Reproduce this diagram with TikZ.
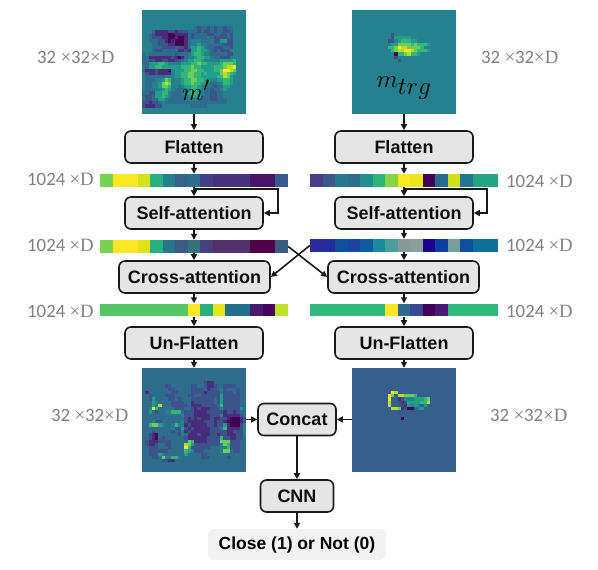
\documentclass[tikz,border=0pt]{standalone}
\usepackage{fontspec}
\setmainfont{Liberation Sans}
\newfontfamily\lblnum{Carlito}
\newfontfamily\lblser{Liberation Serif}
\usetikzlibrary{arrows.meta}
\definecolor{c0}{HTML}{440154}
\definecolor{c1}{HTML}{472D7B}
\definecolor{c2}{HTML}{3B528B}
\definecolor{c3}{HTML}{2F6C8E}
\definecolor{c4}{HTML}{27808E}
\definecolor{c5}{HTML}{1F9E89}
\definecolor{c6}{HTML}{35B779}
\definecolor{c7}{HTML}{6ECE58}
\definecolor{c8}{HTML}{B5DE2B}
\definecolor{c9}{HTML}{FDE725}
\definecolor{cx}{HTML}{35608D}
\newcount\hmcnt
\def\hmcell#1{\ifx#1\relax\else
  \fill[c#1] (\hmx+\the\hmcnt*3.25,\hmy) rectangle ++(3.4,3.4);
  \global\advance\hmcnt by 1
  \expandafter\hmcell\fi}
% #1 left, #2 top, #3 rows
\newcommand{\heatmap}[3]{%
  \foreach \hmr [count=\hmi from 0] in {#3}{%
    \pgfmathsetmacro{\hmy}{#2+\hmi*3.25}%
    \def\hmx{#1}%
    \global\hmcnt=0
    \expandafter\hmcell\hmr\relax
  }}
% #1 left, #2 top, #3 bottom, #4 segment width, #5 list of colours
\newcommand{\barsegs}[5]{%
  \foreach \bc [count=\bi from 0] in {#5}{%
    \fill[fill=\bc] (#1+\bi*#4,#2) rectangle ++(#4+0.2,#3-#2);
  }}
\tikzset{
  boxn/.style={draw=black!90,line width=1.6,fill=black!10,rounded corners=6,
    font=\fontsize{18}{20}\selectfont\bfseries,inner sep=0,minimum height=32,text=black!95},
  imgn/.style={inner sep=0,minimum width=104,minimum height=104},
  barn/.style={inner sep=0,minimum width=188,minimum height=13},
  lbl/.style={text=black!50,inner sep=0,font=\fontsize{18.8}{20}\selectfont\lblnum},
  arr/.style={line width=1.6,draw=black!90,-{Triangle[length=6,width=6]}},
}
\newcommand{\xD}{{\lblser ×D}}
\begin{document}
\begin{tikzpicture}[x=1pt,y=-1pt]
\useasboundingbox (0,0) rectangle (598,570);
% images
\node[imgn,fill=c4] (imgA) at (194,62) {};
\node[imgn,fill=c4] (imgB) at (404,62) {};
\node[imgn,fill=c3] (imgC) at (194,420) {};
\node[imgn,fill=cx] (imgD) at (404,420) {};
\heatmap{142}{10}{
4,4,4,4,4,
4444444444444444323323233233,
4443111122122233323223233223,
443211110011113233332233223244,
4432221100100132333343222232,
4433322101000134443334225522,
4443322211000134454433333222,
4443332222322135565433222332,
4443223333311215565543232224,
34333333332333456654433333224,
33111111121013445665543322244,
33221122112234556654444455556,
33555665444455566766555567776,
43556655555566676655556667889,
31112111045556677665556679987,
42112111145566776656555578765,
43333334445566776655555668754,
43334457644456677665544556654,
43344578744456676655433446654,
43344577644345566544432335544,
4333445654333456654332334544,
3322556643334456654332233444,
3223556543333445553332233444,
3223355433333344443332233344,
2212234333333333333333333344,
21112244444444433333444444
}
\heatmap{352}{10}{
4,4,4,4,4,4,4,
4444444444442,
444444444444255555,
44444444444224566655,
444444444444557777676665,
4444444444466798877776,
444444444444678899876665,
44444444444440667866544,
44444444444442,
444444444444442
}
\heatmap{142}{368}{
3,3,3,3,
33333333333333333332113333333,
33333332233333322332112332222333,
33333333223333322223122342333233,
31333333322333322221222242223233,
33233332223333223322222252222233,
33253333223233322222223252222233,
33354333322223312222223252222233,
33354833322222311122222362222233,
33496333332223321211122242222253,
33532334466632221111222221221233,
33333333333342221111122241111123,
33333333333332121211121122100012,
33342233333342111112221221000012,
33677543346441211111221225100024,
33333333342252121111122236111124,
33323333323241211111122222112224,
33210333333243111211122122111224,
33210323333332111111222262211223,
32111222233333761111222277722233,
32112332233338752222222247622233,
33222333233339622222233344622233,
33222222333336542223333347732233,
33222543333335333322333333333333,
33322374466433333322233333233333,
33333322113333333333333333333333,
3,3
}
\heatmap{352}{368}{
x,x,x,x,x,x,x,
xxxxxxxxxxxx98,
xxxxxxxxxxx97x887776,
xxxxxxxxxxx9xx1244455567,
xxxxxxxxxxx8xx2125555668,
xxxxxxxxxxx8xx2215454x5,
xxxxxxxxxxxx8871200x45,
xxxxxxxxxxxxxx2,
xxxxxxxxxxxxxx2,
xxxxxxxxxxxxxxx0
}
% bars
\node[barn] (barA) at (194,180.5) {};
\node[barn] (barB) at (404,180.5) {};
\node[barn] (barC) at (194,246.5) {};
\node[barn] (barD) at (404,245.5) {};
\node[barn] (barE) at (194,310) {};
\node[barn] (barF) at (404,310) {};
\definecolor{a1}{HTML}{7AD151}\definecolor{a2}{HTML}{FDE725}\definecolor{a3}{HTML}{D2E21B}\definecolor{a4}{HTML}{2AB07F}\definecolor{a5}{HTML}{23808E}\definecolor{a6}{HTML}{33638D}\definecolor{a7}{HTML}{2F6E8E}\definecolor{a8}{HTML}{433E85}\definecolor{a9}{HTML}{46337E}\definecolor{a0}{HTML}{481467}\definecolor{aa}{HTML}{365C8D}
\barsegs{100}{174}{187}{12.533}{a1,a2,a2,a3,a4,a5,a6,a7,a8,a9,a9,a9,a0,a0,aa}
\definecolor{b3}{HTML}{DFE318}\definecolor{b5}{HTML}{26768A}\definecolor{b6}{HTML}{3B5A85}\definecolor{b7}{HTML}{35727A}\definecolor{b8}{HTML}{48417F}\definecolor{b9}{HTML}{53306E}\definecolor{b0}{HTML}{500047}\definecolor{ba}{HTML}{3C5A80}
\barsegs{100}{240}{253}{12.533}{a1,a2,a2,b3,a4,b5,b6,b7,b8,b9,b9,b9,b0,b0,ba}
\definecolor{e1}{HTML}{55C667}\definecolor{e2}{HTML}{29AF7F}\definecolor{e3}{HTML}{E9E51A}\definecolor{e4}{HTML}{21718E}\definecolor{e5}{HTML}{471A70}\definecolor{e6}{HTML}{460161}\definecolor{e7}{HTML}{BDDF26}
\barsegs{100}{304}{316}{12.533}{e1,e1,e1,e1,e1,e1,e1,a2,e2,e3,e4,e4,e5,e6,e7}
\definecolor{f1}{HTML}{483F86}\definecolor{f2}{HTML}{38588C}\definecolor{f3}{HTML}{27788E}\definecolor{f4}{HTML}{2F6C8E}\definecolor{f5}{HTML}{218F8D}\definecolor{f6}{HTML}{2FB47C}\definecolor{f7}{HTML}{86D549}\definecolor{f8}{HTML}{ECE51B}\definecolor{f9}{HTML}{440154}\definecolor{f0}{HTML}{266B8E}\definecolor{fa}{HTML}{D0E11C}\definecolor{fb}{HTML}{22768E}\definecolor{fc}{HTML}{25A584}
\barsegs{310}{174}{187}{12.533}{f1,f2,f3,f4,f5,f6,f7,a2,f8,f9,f0,fa,fb,fc,fc}
\definecolor{g1}{HTML}{2A2A9A}\definecolor{g2}{HTML}{1F2F9E}\definecolor{g3}{HTML}{0F519F}\definecolor{g4}{HTML}{1A44A0}\definecolor{g5}{HTML}{0D5C9E}\definecolor{g6}{HTML}{1A8AA0}\definecolor{g7}{HTML}{4A9D9C}\definecolor{g8}{HTML}{88999A}\definecolor{g9}{HTML}{86A09A}\definecolor{g0}{HTML}{1C0090}\definecolor{ga}{HTML}{0A3FA0}\definecolor{gb}{HTML}{7A9C9C}\definecolor{gc}{HTML}{0D4F9C}\definecolor{gd}{HTML}{0B6F9E}
\barsegs{310}{239}{252}{12.533}{g1,g2,g3,g4,g5,g6,g7,g8,g9,g0,ga,gb,gc,gd,gd}
\definecolor{h1}{HTML}{2FB97A}\definecolor{h2}{HTML}{2F6A8E}\definecolor{h3}{HTML}{374A90}\definecolor{h4}{HTML}{44015A}\definecolor{h5}{HTML}{461A76}
\barsegs{310}{304}{316}{12.533}{h1,h1,h1,h1,h1,h1,a2,h2,h3,h4,h5,h1,h1,h1,h1}
% symbols in the images
\node[inner sep=0,font=\fontsize{28}{28}\selectfont] (mA) at (196,90) {$m'$};
\node[inner sep=0,font=\fontsize{24}{24}\selectfont] (mB) at (404,88) {$m_{\textstyle trg}$};
% boxes
\node[boxn,minimum width=138] (flatA) at (194,147) {Flatten};
\node[boxn,minimum width=138] (flatB) at (404,147) {Flatten};
\node[boxn,minimum width=138] (selfA) at (194,213) {Self-attention};
\node[boxn,minimum width=138] (selfB) at (404,213) {Self-attention};
\node[boxn,minimum width=151] (crossA) at (194.5,277) {Cross-attention};
\node[boxn,minimum width=151] (crossB) at (403.5,277) {Cross-attention};
\node[boxn,minimum width=138] (unA) at (194,343) {Un-Flatten};
\node[boxn,minimum width=138] (unB) at (404,343) {Un-Flatten};
\node[boxn,minimum width=78] (concat) at (297,419.5) {Concat};
\node[boxn,minimum width=73] (cnn) at (297,496) {CNN};
\node[fill=black!5,rounded corners=6,inner sep=0,minimum width=178,minimum height=31,
  font=\fontsize{17.5}{20}\selectfont\bfseries] (out) at (297,544.5) {Close (1) or Not (0)};
% labels
\node[lbl,anchor=west] (l1) at (37,57) {32 {\lblser ×}32\xD};
\node[lbl,anchor=west] (l2) at (481,57) {32 {\lblser ×}32\xD};
\node[lbl,anchor=west] (l3) at (51,415) {32 {\lblser ×}32\xD};
\node[lbl,anchor=west] (l4) at (490,415) {32 {\lblser ×}32\xD};
\node[lbl,anchor=west] (l5) at (27,179) {1024 \xD};
\node[lbl,anchor=west] (l6) at (27,245) {1024 \xD};
\node[lbl,anchor=west] (l7) at (27,311) {1024 \xD};
\node[lbl,anchor=west] (l8) at (506,181) {1024 \xD};
\node[lbl,anchor=west] (l9) at (506,245) {1024 \xD};
\node[lbl,anchor=west] (l10) at (506,311) {1024 \xD};
% connectors
\coordinate (fbA) at (278,189);
\coordinate (fbB) at (487,189);
\draw[arr] (imgA.south) -- (flatA.north);
\draw[arr] (imgB.south) -- (flatB.north);
\draw[arr] (flatA.south) -- (barA.north);
\draw[arr] (flatB.south) -- (barB.north);
\draw[arr] (barA.south) -- (selfA.north);
\draw[arr] (barB.south) -- (selfB.north);
\draw[arr] (barA.south |- fbA) -- (fbA) |- (selfA.east);
\draw[arr] (barB.south |- fbB) -- (fbB) |- (selfB.east);
\draw[arr] (selfA.south) -- (barC.north);
\draw[arr] (selfB.south) -- (barD.north);
\draw[arr] (barC.south) -- (crossA.north -| barC.south);
\draw[arr] (barD.south) -- (crossB.north -| barD.south);
\draw[arr] (crossA.south -| barE.north) -- (barE.north);
\draw[arr] (crossB.south -| barF.north) -- (barF.north);
\draw[arr] (barE.south) -- (unA.north);
\draw[arr] (barF.south) -- (unB.north);
\draw[arr] (unA.south) -- (imgC.north);
\draw[arr] (unB.south) -- (imgD.north);
\draw[arr] (barC.east) -- (crossB.west);
\draw[arr] (barD.west) -- (crossA.east);
\draw[arr] (imgC.east |- concat.west) -- (concat.west);
\draw[arr] (imgD.west |- concat.east) -- (concat.east);
\draw[arr] (concat.south) -- (cnn.north);
\draw[arr] (cnn.south) -- (out.north);
\end{tikzpicture}
\end{document}
